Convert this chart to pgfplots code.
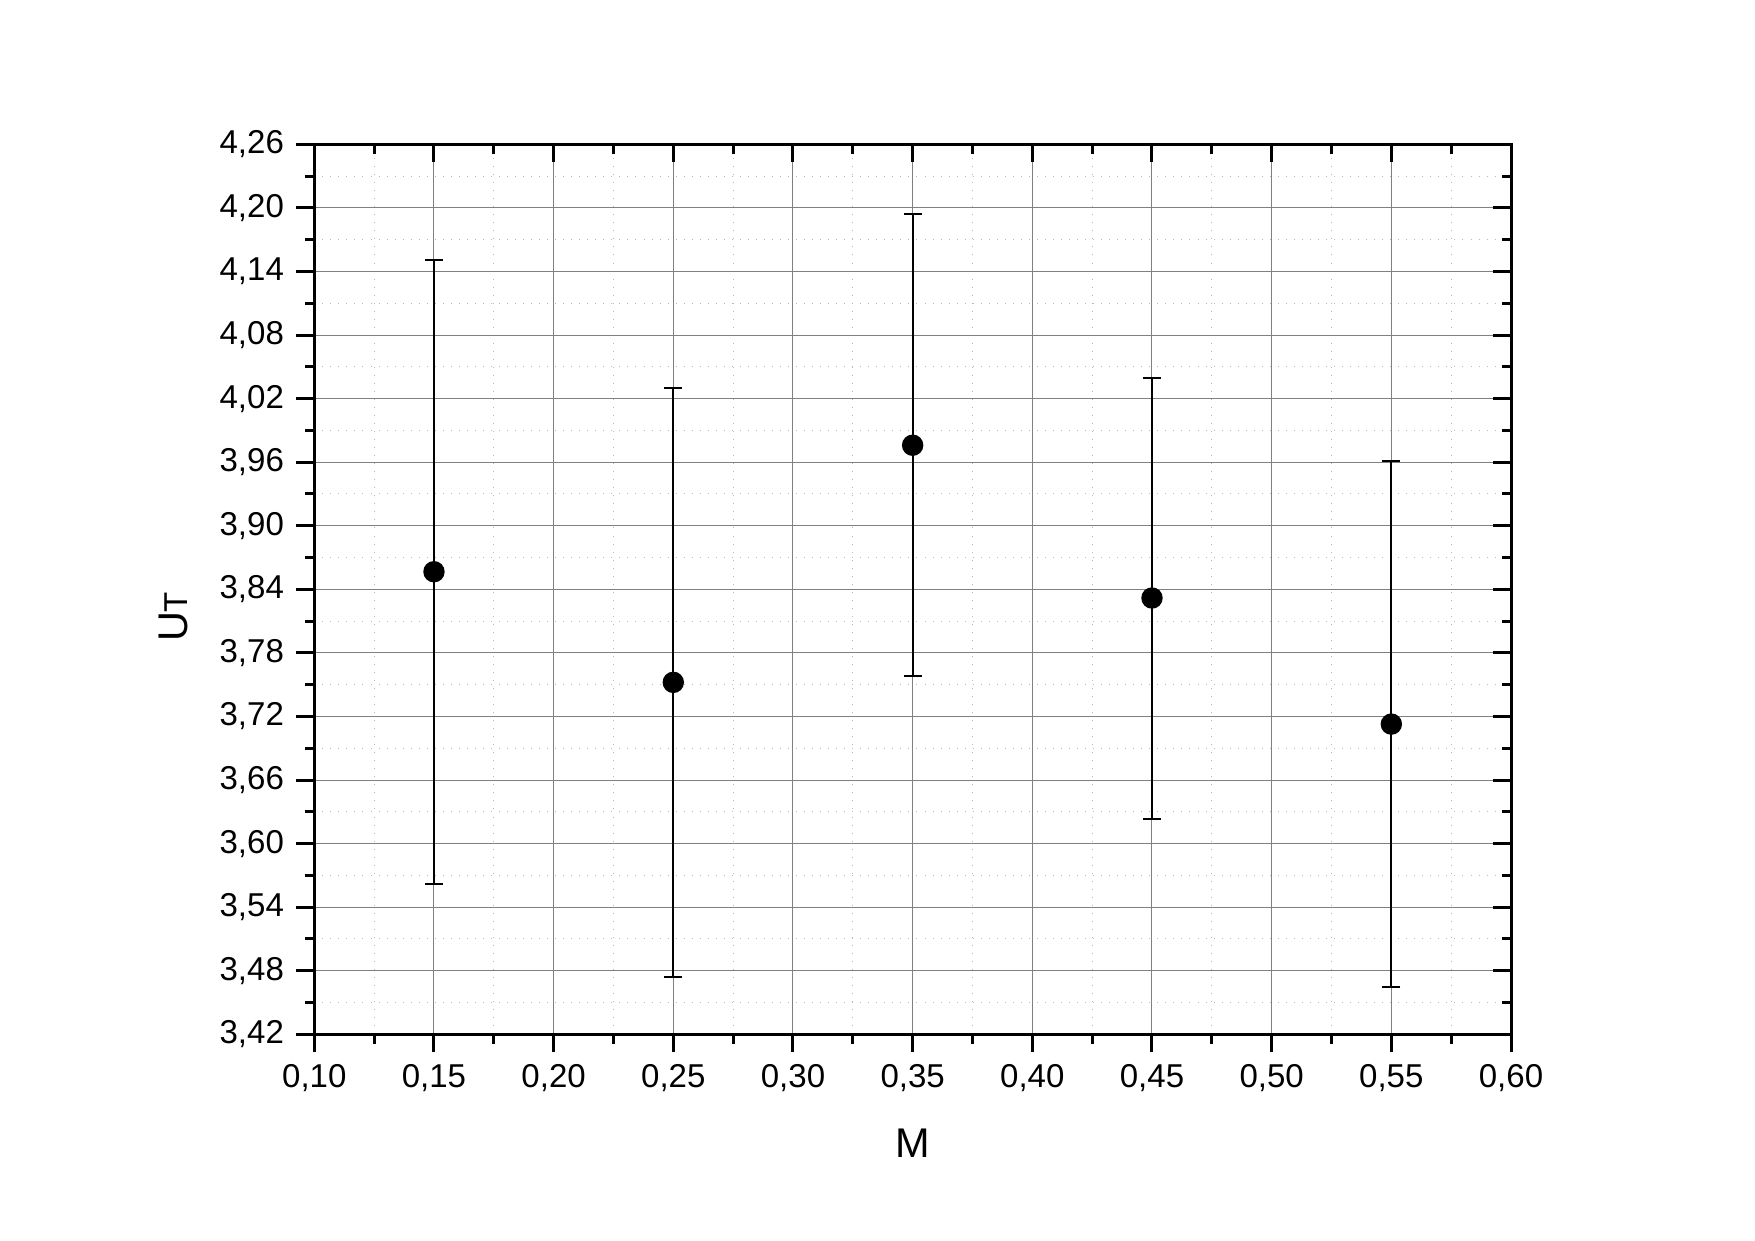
\documentclass[border=0pt]{standalone}
\usepackage{fontspec}
\setmainfont{Liberation Sans}
\usepackage{pgfplots}
\pgfplotsset{compat=1.18}
\begin{document}
\begin{tikzpicture}
\pgfplotsset{
  common/.style={
    at={(0,0)}, anchor=south west,
    scale only axis, width=11.967cm, height=8.9cm,
    xmin=0.1, xmax=0.6, ymin=3.42, ymax=4.26,
    xtick={0.1,0.15,...,0.61}, ytick={3.42,3.48,...,4.27},
    minor x tick num=1, minor y tick num=1,
    axis line style={line width=0.3mm},
    major tick style={line width=0.3mm, black},
    minor tick style={line width=0.3mm, black},
    major tick length=1.8mm, minor tick length=0.95mm,
  }
}
\begin{axis}[common,
  xtick pos=bottom, ytick pos=left, tick align=outside,
  grid=both,
  major grid style={line width=0.1mm, gray},
  minor grid style={line width=0.1mm, gray!55, dotted},
  /pgf/number format/assume math mode=true,
  /pgf/number format/.cd, use comma, fixed, fixed zerofill, precision=2, /pgfplots/.cd,
  ticklabel style={font=\fontsize{9.4}{11}\selectfont},
  xlabel={M}, ylabel={U{\fontsize{9.4}{11}\selectfont T}},
  label style={font=\fontsize{11.8}{14}\selectfont},
  xlabel style={at={([yshift=-1.09cm]axis description cs:0.5,0)}, anchor=center},
  ylabel style={at={([xshift=-1.41cm]axis description cs:0,0.469)}, anchor=center},
]
\addplot[black, only marks, mark=*, mark size=1mm,
  error bars/.cd, y dir=both, y explicit,
  error bar style={line width=0.2mm, black},
  error mark options={black, mark size=0.9mm, line width=0.2mm, rotate=90}]
  table[x=x, y=y, y error plus=ep, y error minus=em] {
  x     y      ep     em
  0.15  3.8566 0.2942 0.2948
  0.25  3.7522 0.2778 0.2782
  0.35  3.9760 0.2184 0.2180
  0.45  3.8318 0.2076 0.2086
  0.55  3.7128 0.2486 0.2482
};
\end{axis}
\begin{axis}[common,
  xtick pos=top, ytick pos=right, tick align=inside,
  xticklabels={}, yticklabels={},
]
\end{axis}
\path[use as bounding box] (-3.143,-2.057) rectangle (14.407,10.343);
\end{tikzpicture}
\end{document}
